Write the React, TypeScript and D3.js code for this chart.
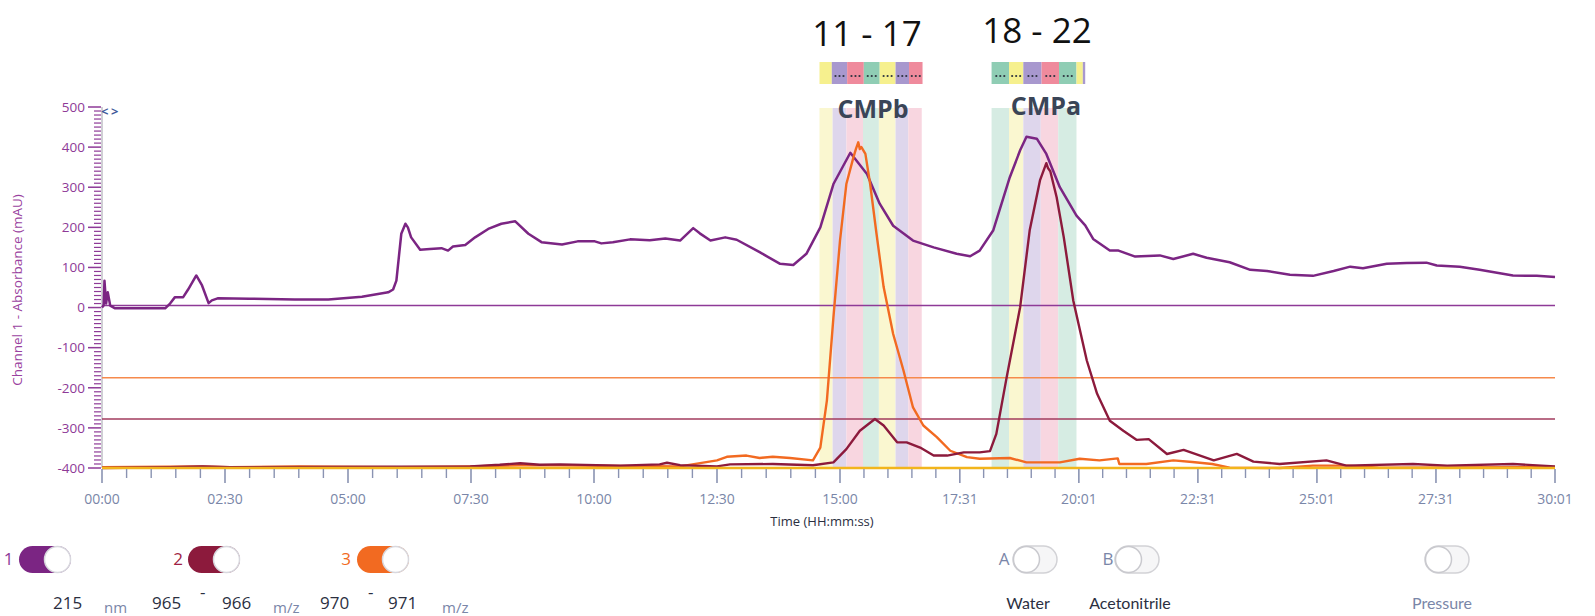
import React from 'react';
import * as d3 from 'd3';

// ---------- data ----------
const xTickSeconds = [0, 150, 300, 450, 600, 750, 900, 1051, 1201, 1351, 1501, 1651, 1801];
const xTickLabels = ['00:00', '02:30', '05:00', '07:30', '10:00', '12:30', '15:00', '17:31', '20:01', '22:31', '25:01', '27:31', '30:01'];
const yTicks = [-400, -300, -200, -100, 0, 100, 200, 300, 400, 500];

// Channel 1 - 215 nm (time s, mAU)
const ch1: [number, number][] = [
  [0, 0], [2, 5], [3, 67], [5, 10], [7, 38], [10, 5], [16, -2], [77, -2], [83, 10], [89, 26], [99, 26], [105, 45],
  [115, 80], [122, 55], [130, 11], [134, 18], [141, 23], [180, 22], [235, 20], [276, 20], [317, 27], [349, 38],
  [355, 45], [359, 67], [365, 184], [370, 209], [373, 200], [377, 175], [388, 144], [400, 146], [414, 148],
  [422, 142], [428, 152], [443, 156], [455, 175], [471, 196], [487, 209], [504, 215], [520, 184], [536, 163],
  [561, 157], [580, 165], [601, 165], [609, 160], [623, 163], [644, 170], [668, 168], [687, 172], [705, 167],
  [721, 198], [729, 185], [742, 167], [760, 175], [774, 169], [802, 138], [827, 109], [843, 106], [859, 134],
  [876, 200], [892, 308], [913, 386], [934, 333], [950, 259], [967, 204], [992, 167], [1018, 150], [1047, 134],
  [1064, 128], [1076, 142], [1093, 192], [1114, 325], [1127, 392], [1135, 426], [1148, 421], [1160, 383],
  [1177, 300], [1198, 229], [1209, 205], [1219, 171], [1240, 142], [1251, 142], [1272, 127], [1303, 130],
  [1320, 121], [1345, 134], [1362, 124], [1391, 113], [1417, 94], [1438, 91], [1467, 82], [1496, 79], [1522, 91],
  [1543, 102], [1559, 98], [1589, 109], [1614, 111], [1639, 112], [1652, 105], [1681, 102], [1706, 94],
  [1748, 80], [1778, 79], [1801, 76],
];

// Channel 2 - 965-966 m/z
const ch2: [number, number][] = [
  [0, -400], [83, -398], [123, -396], [156, -398], [449, -396], [485, -392], [510, -388], [534, -392], [559, -391],
  [632, -394], [680, -391], [689, -387], [705, -393], [750, -396], [766, -391], [818, -390], [867, -393],
  [892, -386], [908, -353], [925, -307], [944, -278], [955, -294], [972, -336], [984, -336], [1001, -349],
  [1018, -369], [1035, -369], [1056, -361], [1076, -361], [1089, -358], [1097, -315], [1110, -174], [1127, 1],
  [1139, 192], [1152, 317], [1160, 360], [1162, 348], [1165, 340], [1173, 275], [1182, 175], [1194, 17],
  [1211, -132], [1224, -215], [1240, -282], [1257, -307], [1274, -330], [1289, -328], [1312, -365], [1333, -355],
  [1371, -381], [1400, -365], [1421, -384], [1454, -390], [1513, -381], [1538, -394], [1622, -390], [1665, -394],
  [1748, -390], [1801, -396],
];

// Channel 3 - 970-971 m/z
const ch3: [number, number][] = [
  [0, -398], [120, -396], [156, -398], [241, -396], [363, -398], [449, -396], [510, -393], [559, -393], [632, -395],
  [705, -396], [750, -381], [762, -372], [786, -369], [802, -375], [818, -372], [839, -375], [867, -381],
  [876, -349], [884, -232], [892, -24], [900, 167], [908, 308], [917, 375], [920, 395], [923, 412], [925, 395],
  [927, 400], [932, 383], [938, 308], [946, 184], [955, 51], [967, -66], [980, -157], [992, -249], [1005, -294],
  [1022, -323], [1039, -357], [1060, -373], [1076, -377], [1114, -375], [1135, -386], [1177, -386], [1202, -377],
  [1227, -381], [1250, -376], [1252, -390], [1286, -390], [1320, -381], [1344, -385], [1369, -390], [1391, -399],
  [1454, -400], [1496, -394], [1539, -394], [1580, -399], [1801, -398],
];

const baselineValues = [5, -175, -278];
const baselineColors = ['#8E3A97', '#F68A4C', '#A23B5E'];

// fraction collection windows (boundaries in s)
const cmpbBounds = [875, 891, 908, 929, 949, 970, 986, 1003];
const cmpbColors = ['yellow', 'purple', 'pink', 'green', 'yellow', 'purple', 'pink'];
const cmpaBounds = [1091, 1113, 1131, 1153, 1175, 1198];
const cmpaColors = ['green', 'yellow', 'purple', 'pink', 'green'];
const stripBBounds = [875, 890, 909, 930, 950, 970, 987, 1004];
const stripBColors = ['yellow', 'purple', 'pink', 'green', 'yellow', 'purple', 'pink'];
const stripBDots = [false, true, true, true, true, true, true];
const stripABounds = [1091, 1113, 1131, 1154, 1176, 1198, 1206, 1209];
const stripAColors = ['green', 'yellow', 'purple', 'pink', 'green', 'yellow', 'purple'];
const stripADots = [true, true, true, true, true, false, false];

const lightColor: Record<string, string> = {
  yellow: '#FAF7D0', purple: '#DED6EC', pink: '#F8D6E0', green: '#D6ECE3',
};
const strongColor: Record<string, string> = {
  yellow: '#F6F08E', purple: '#A898CE', pink: '#EF8A9C', green: '#8FCDB4',
};

const C1 = '#7B2583';
const C2 = '#8C1A3C';
const C3 = '#F26A21';

// ---------- scales ----------
const x = d3.scaleLinear().domain([0, 900, 1801]).range([102, 840, 1555]);
const y = d3.scaleLinear().domain([-400, 500]).range([468, 107]);

const lineGen = d3
  .line<[number, number]>()
  .x((d) => x(d[0]))
  .y((d) => y(d[1]))
  .curve(d3.curveLinear);

const minorX: number[] = [];
for (let i = 0; i < xTickSeconds.length - 1; i++) {
  const a = xTickSeconds[i];
  const b = xTickSeconds[i + 1];
  for (let k = 1; k < 5; k++) minorX.push(a + ((b - a) * k) / 5);
}
const minorY = d3.range(-400, 501, 10).filter((v) => v % 100 !== 0);

const FONT = '"Open Sans", "Noto Sans", sans-serif';

function Bands({ bounds, colors }: { bounds: number[]; colors: string[] }) {
  return (
    <g>
      {colors.map((c, i) => (
        <rect
          key={i}
          x={x(bounds[i])}
          y={108}
          width={x(bounds[i + 1]) - x(bounds[i])}
          height={468 - 108}
          fill={lightColor[c]}
        />
      ))}
    </g>
  );
}

function Strip({ bounds, colors, dots }: { bounds: number[]; colors: string[]; dots: boolean[] }) {
  return (
    <g>
      {colors.map((c, i) => {
        const x0 = x(bounds[i]);
        const x1 = x(bounds[i + 1]);
        const cx = (x0 + x1) / 2;
        return (
          <g key={i}>
            <rect x={x0} y={62} width={x1 - x0} height={22} fill={strongColor[c]} />
            {dots[i] &&
              [-4, 0, 4].map((o) => <circle key={o} cx={cx + o} cy={76} r={1.1} fill="#2E3440" />)}
          </g>
        );
      })}
    </g>
  );
}

function ToggleOn({ x0, color }: { x0: number; color: string }) {
  const w = 52;
  const h = 27;
  const y0 = 546;
  return (
    <g>
      <rect x={x0} y={y0} width={w} height={h} rx={h / 2} fill={color} />
      <circle cx={x0 + w - h / 2} cy={y0 + h / 2} r={h / 2 - 0.5} fill="#fff" stroke="#D8D8DE" strokeWidth={1.5} />
    </g>
  );
}

function ToggleOff({ x0 }: { x0: number }) {
  const w = 44;
  const h = 27;
  const y0 = 546;
  return (
    <g>
      <rect x={x0} y={y0} width={w} height={h} rx={h / 2} fill="#F6F6F7" stroke="#D2D2D6" strokeWidth={1.5} />
      <circle cx={x0 + h / 2} cy={y0 + h / 2} r={h / 2 - 0.5} fill="#fff" stroke="#C9C9CE" strokeWidth={1.5} />
    </g>
  );
}

export default function App() {
  return (
    <svg
      width={1595}
      height={616}
      style={{ position: 'absolute', left: 0, top: 0, background: '#fff' }}
      fontFamily={FONT}
    >
      {/* fraction titles */}
      <text x={867} y={46} fontSize={35} textAnchor="middle" fill="#111" fontFamily={FONT}>
        11 - 17
      </text>
      <text x={1037} y={43} fontSize={35} textAnchor="middle" fill="#111" fontFamily={FONT}>
        18 - 22
      </text>
      <Strip bounds={stripBBounds} colors={stripBColors} dots={stripBDots} />
      <Strip bounds={stripABounds} colors={stripAColors} dots={stripADots} />

      {/* fraction bands */}
      <Bands bounds={cmpbBounds} colors={cmpbColors} />
      <Bands bounds={cmpaBounds} colors={cmpaColors} />
      <text x={873} y={118} fontSize={25} fontWeight={700} textAnchor="middle" fill="#3A4557">
        CMPb
      </text>
      <text x={1046} y={115} fontSize={25} fontWeight={700} textAnchor="middle" fill="#3A4557">
        CMPa
      </text>

      {/* y axis */}
      <line x1={102} x2={102} y1={107} y2={468} stroke="#CFCFD4" strokeWidth={2} />
      {yTicks.map((v) => (
        <g key={v}>
          <line x1={88} x2={101} y1={y(v)} y2={y(v)} stroke="#8E3A97" strokeWidth={1.5} />
          <text x={85} y={y(v)} dy="0.35em" fontSize={13.5} textAnchor="end" fill="#8E3A97">
            {v}
          </text>
        </g>
      ))}
      {minorY.map((v) => (
        <line key={v} x1={94} x2={101} y1={y(v)} y2={y(v)} stroke="#8E3A97" strokeWidth={1.2} />
      ))}
      <text
        transform="translate(22,290) rotate(-90)"
        fontSize={13.5}
        textAnchor="middle"
        fill="#9A42A0"
      >
        Channel 1 - Absorbance (mAU)
      </text>
      <text x={101} y={116} fontSize={13} fill="#3E5A9A" fontWeight={700}>
        {'<'}
      </text>
      <text x={111} y={116} fontSize={13} fill="#3E5A9A" fontWeight={700}>
        {'>'}
      </text>

      {/* baselines */}
      {baselineValues.map((v, i) => (
        <line key={i} x1={102} x2={1555} y1={y(v)} y2={y(v)} stroke={baselineColors[i]} strokeWidth={1.5} />
      ))}

      {/* traces */}
      <path d={lineGen(ch1) || ''} fill="none" stroke={C1} strokeWidth={2.5} strokeLinejoin="round" />
      <path d={lineGen(ch3) || ''} fill="none" stroke={C3} strokeWidth={2.4} strokeLinejoin="round" />
      <path d={lineGen(ch2) || ''} fill="none" stroke={C2} strokeWidth={2.4} strokeLinejoin="round" />

      {/* x axis */}
      <line x1={102} x2={1555} y1={468} y2={468} stroke="#F2B51C" strokeWidth={2.5} />
      {xTickSeconds.map((t, i) => (
        <g key={t}>
          <line x1={x(t)} x2={x(t)} y1={469} y2={483} stroke="#8A93B2" strokeWidth={1.6} />
          <text x={x(t)} y={504} fontSize={14} textAnchor="middle" fill="#7A86A8">
            {xTickLabels[i]}
          </text>
        </g>
      ))}
      {minorX.map((t, i) => (
        <line key={i} x1={x(t)} x2={x(t)} y1={469} y2={478} stroke="#8A93B2" strokeWidth={1.4} />
      ))}
      <text x={822} y={526} fontSize={13} textAnchor="middle" fill="#2B2F3F">
        Time (HH:mm:ss)
      </text>

      {/* legend - channels */}
      <text x={8.5} y={565} fontSize={17} textAnchor="middle" fill="#8E3A97">1</text>
      <ToggleOn x0={19} color={C1} />
      <text x={178} y={565} fontSize={17} textAnchor="middle" fill="#A01F45">2</text>
      <ToggleOn x0={188} color={C2} />
      <text x={346} y={565} fontSize={17} textAnchor="middle" fill={C3}>3</text>
      <ToggleOn x0={357} color={C3} />

      <g fill="#2B2F3F" fontSize={17}>
        <text x={53} y={609}>215</text>
        <text x={152} y={609}>965</text>
        <text x={200} y={598}>-</text>
        <text x={222} y={609}>966</text>
        <text x={320} y={609}>970</text>
        <text x={368} y={598}>-</text>
        <text x={388} y={609}>971</text>
      </g>
      <g fill="#7A86A8" fontSize={15}>
        <text x={104} y={613}>nm</text>
        <text x={273} y={613}>m/z</text>
        <text x={442} y={613}>m/z</text>
      </g>

      {/* legend - solvents */}
      <text x={1004} y={565} fontSize={17} textAnchor="middle" fill="#7A86A8">A</text>
      <ToggleOff x0={1013} />
      <text x={1108} y={565} fontSize={17} textAnchor="middle" fill="#7A86A8">B</text>
      <ToggleOff x0={1115} />
      <ToggleOff x0={1425} />
      <text x={1028} y={609} fontSize={16} textAnchor="middle" fill="#2B2F3F" fontFamily="Lato, sans-serif">
        Water
      </text>
      <text x={1130} y={609} fontSize={16} textAnchor="middle" fill="#2B2F3F" fontFamily="Lato, sans-serif">
        Acetonitrile
      </text>
      <text x={1442} y={609} fontSize={16} textAnchor="middle" fill="#7A86A8" fontFamily="Lato, sans-serif">
        Pressure
      </text>
    </svg>
  );
}
